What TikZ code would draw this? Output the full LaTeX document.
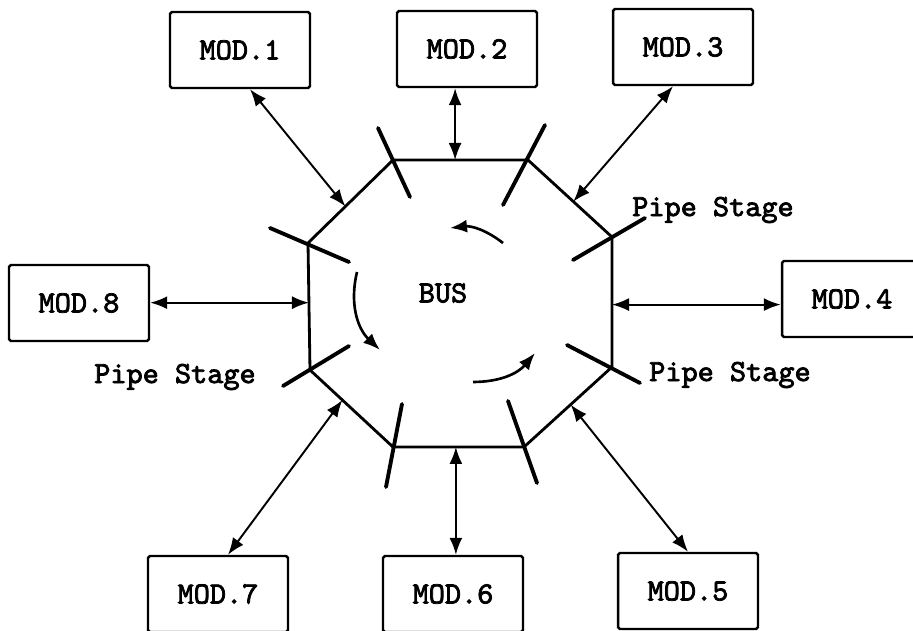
\documentclass[tikz,border=0pt]{standalone}
\usepackage{fontspec}
\newfontfamily\modfont{lmmono10-regular.otf}[FakeBold=2.5]
\usetikzlibrary{arrows.meta,calc}

\begin{document}
\begin{tikzpicture}[x=0.02cm, y=-0.02cm,
  every node/.style={font=\modfont\fontsize{17.5}{20}\selectfont},
  modbox/.style={draw, line width=1.4pt, minimum width=2.8cm, minimum height=1.52cm, rounded corners=1pt},
  ring/.style={line width=1.6pt},
  stage/.style={line width=2.2pt, line cap=round},
  link/.style={{Latex[length=3.4mm,width=2.6mm]}-{Latex[length=3.4mm,width=2.6mm]}, line width=1.1pt},
  flow/.style={-{Latex[length=3.4mm,width=2.6mm]}, line width=1.5pt}]
  \useasboundingbox (0,0) rectangle (913,631);
  % corners of the ring bus
  \coordinate (v1) at (393,160);
  \coordinate (v2) at (528,160);
  \coordinate (v3) at (612,237);
  \coordinate (v4) at (612,367);
  \coordinate (v5) at (524,447);
  \coordinate (v6) at (393,447);
  \coordinate (v7) at (310,370);
  \coordinate (v8) at (308,243);
  \draw[ring] (v1) -- (v2) -- (v3) -- (v4) -- (v5) -- (v6) -- (v7) -- (v8) -- cycle;
  % pipe stages
  \draw[stage] (378,128) -- (410,197);
  \draw[stage] (545,125) -- (503,205);
  \draw[stage] (645,218) -- (573,260);
  \draw[stage] (567,345) -- (640,383);
  \draw[stage] (508,401) -- (537,483);
  \draw[stage] (402,404) -- (386,487);
  \draw[stage] (349,346) -- (283,386);
  \draw[stage] (349,262) -- (270,228);
  \node (bus) at (443,293) {BUS};
  % direction of flow
  \coordinate (fa) at (503,243); \coordinate (fb) at (450,228);
  \coordinate (fc) at (357,272); \coordinate (fd) at (380,350);
  \coordinate (fe) at (473,382); \coordinate (ff) at (535,353);
  \draw[flow] (fa) to[bend right=22] (fb);
  \draw[flow] (fc) to[bend right=30] (fd);
  \draw[flow] (fe) to[bend right=25] (ff);
  % modules
  \node[modbox] (m1) at (240,50) {MOD.1};
  \node[modbox] (m2) at (467,49) {MOD.2};
  \node[modbox] (m3) at (683,47) {MOD.3};
  \node[modbox] (m4) at (852,299) {MOD.4};
  \node[modbox] (m5) at (688,591) {MOD.5};
  \node[modbox] (m6) at (453,594) {MOD.6};
  \node[modbox] (m7) at (218,594) {MOD.7};
  \node[modbox] (m8) at (79,303) {MOD.8};
  % taps on the ring
  \coordinate (e1) at ($(v8)!0.44!(v1)$);
  \coordinate (e2) at ($(v1)!0.46!(v2)$);
  \coordinate (e3) at ($(v2)!0.54!(v3)$);
  \coordinate (e4) at ($(v3)!0.52!(v4)$);
  \coordinate (e5) at ($(v4)!0.47!(v5)$);
  \coordinate (e6) at ($(v6)!0.48!(v5)$);
  \coordinate (e7) at ($(v7)!0.39!(v6)$);
  \coordinate (e8) at ($(v8)!0.47!(v7)$);
  \draw[link] ($(m1.south)+(10,0)$) -- (e1);
  \draw[link] (e2 |- m2.south) -- (e2);
  \draw[link] ($(m3.south)+(-10,0)$) -- (e3);
  \draw[link] (e4) -- (e4 -| m4.west);
  \draw[link] (e5) -- (m5.north);
  \draw[link] (e6) -- (e6 |- m6.north);
  \draw[link] (e7) -- ($(m7.north)+(10,0)$);
  \draw[link] (e8 -| m8.east) -- (e8);
  % labels
  \node (ps1) at (713,210) {Pipe Stage};
  \node (ps2) at (730,375) {Pipe Stage};
  \node (ps3) at (175,377) {Pipe Stage};
\end{tikzpicture}
\end{document}
